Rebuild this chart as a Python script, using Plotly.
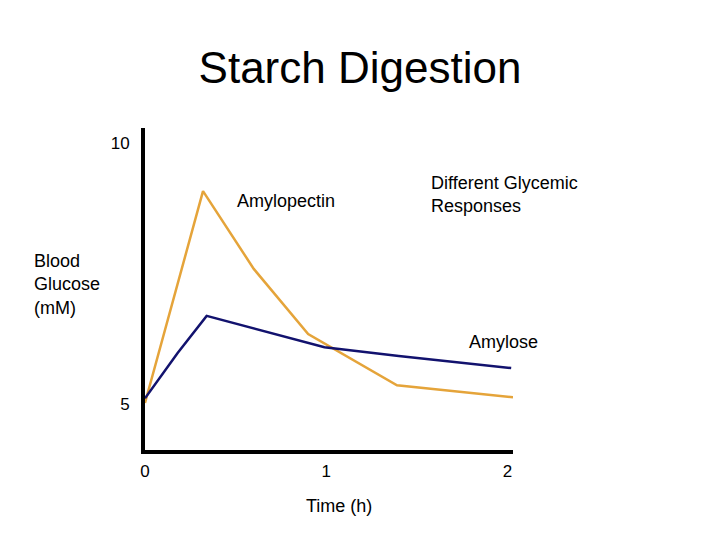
import plotly.graph_objects as go

# Data (time in hours, blood glucose in mM)
amylopectin_t = [0, 0.32, 0.60, 0.90, 1.39, 2.03]
amylopectin_g = [5.02, 9.08, 7.59, 6.34, 5.36, 5.13]
amylose_t = [0, 0.18, 0.34, 0.68, 0.99, 1.40, 2.02]
amylose_g = [5.11, 5.98, 6.69, 6.38, 6.09, 5.92, 5.69]
x_ticks = [0, 1, 2]
y_ticks = [5, 10]

FONT = "Liberation Sans, Arial, sans-serif"
ORANGE = "#E5A43A"
NAVY = "#12126E"

OFF = 8  # page body margin
W, H = 720 - OFF, 540 - OFF
L, R, T, B = 145 - OFF, 513 - OFF, 128 - OFF, 450 - OFF  # plot area in pixels


def px(xp):
    return (xp - OFF - L) / (R - L)


def py(yp):
    return (B - (yp - OFF)) / (B - T)


fig = go.Figure()
fig.add_trace(go.Scatter(x=amylopectin_t, y=amylopectin_g, mode="lines",
                         line=dict(color=ORANGE, width=2.5), name="Amylopectin"))
fig.add_trace(go.Scatter(x=amylose_t, y=amylose_g, mode="lines",
                         line=dict(color=NAVY, width=2.5), name="Amylose"))

ann = dict(xref="paper", yref="paper", showarrow=False,
           font=dict(family=FONT, size=18, color="black"))
fig.add_annotation(text="Amylopectin", x=px(286), y=py(201), xanchor="center", yanchor="middle", **ann)
fig.add_annotation(text="Different Glycemic<br>Responses", x=px(429), y=py(194), xanchor="left",
                   yanchor="middle", align="left", **ann)
fig.add_annotation(text="Amylose", x=px(503), y=py(342), xanchor="center", yanchor="middle", **ann)
fig.add_annotation(text="Blood<br>Glucose<br>(mM)", x=px(32), y=py(284), xanchor="left",
                   yanchor="middle", align="left", **ann)
fig.add_annotation(text="Time (h)", x=px(339), y=py(506), xanchor="center", yanchor="middle", **ann)

fig.update_layout(
    width=W, height=H,
    margin=dict(l=L, r=W - R, t=T, b=H - B, pad=0),
    paper_bgcolor="white", plot_bgcolor="white",
    showlegend=False,
    title=dict(text="Starch Digestion", x=(360 - OFF) / W, xanchor="center", y=1 - (68 - OFF) / H,
               yanchor="middle", font=dict(family=FONT, size=44, color="black")),
    xaxis=dict(range=[0, 2.03], tickvals=x_ticks, showgrid=False, zeroline=False,
               showline=True, linecolor="black", linewidth=4,
               ticks="outside", ticklen=3, tickcolor="rgba(0,0,0,0)",
               tickfont=dict(family=FONT, size=17, color="black")),
    yaxis=dict(range=[4.12, 10.29], tickvals=y_ticks, showgrid=False, zeroline=False,
               showline=True, linecolor="black", linewidth=4,
               ticks="outside", ticklen=8, tickcolor="rgba(0,0,0,0)",
               tickfont=dict(family=FONT, size=17, color="black")),
)

fig.write_html("out.html")
